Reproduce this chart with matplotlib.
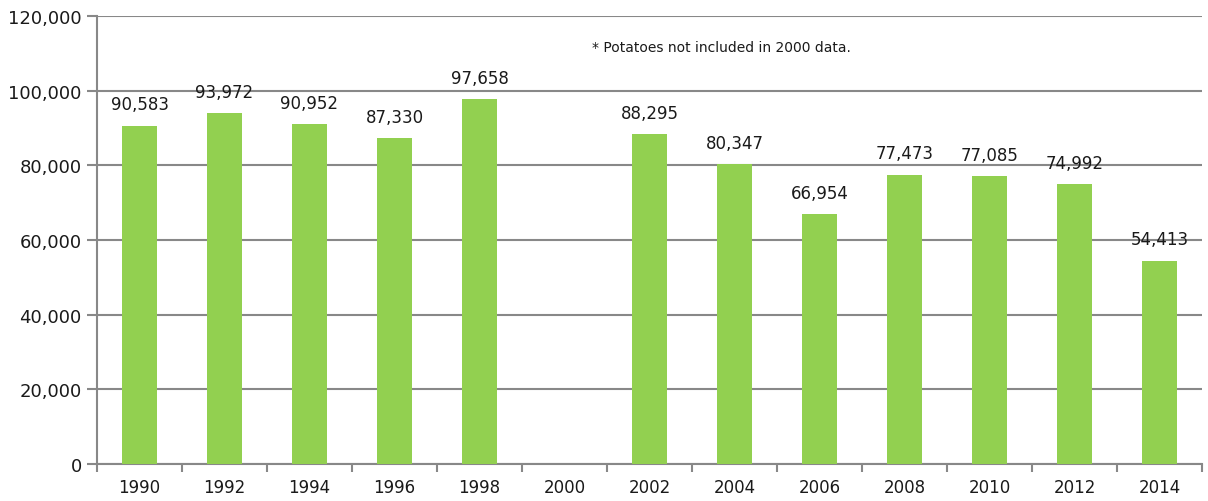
import numpy as np
import matplotlib
matplotlib.use('Agg')
import matplotlib.pyplot as plt
from matplotlib.ticker import FuncFormatter, FixedLocator

years = ['1990', '1992', '1994', '1996', '1998', '2000', '2002',
         '2004', '2006', '2008', '2010', '2012', '2014']
values = [90583, 93972, 90952, 87330, 97658, np.nan, 88295,
          80347, 66954, 77473, 77085, 74992, 54413]
note = '* Potatoes not included in 2000 data.'

plt.rcParams['font.family'] = ['DejaVu Sans']
fig = plt.figure(figsize=(12.08, 5.02), dpi=100)
ax = fig.add_axes([0.0803, 0.0737, 0.9147, 0.8923])

x = np.arange(len(years))
ax.bar(x, values, width=0.41, color='#92D050', zorder=3)

for xi, v in zip(x, values):
    if np.isnan(v):
        continue
    ax.annotate(f'{int(v):,}', (xi, v), xytext=(0, 9), textcoords='offset points',
                ha='center', va='bottom', fontsize=12, color='#1a1a1a')

ax.set_xlim(-0.5, len(years) - 0.5)
ax.set_ylim(0, 120000)
ax.set_yticks(range(0, 120001, 20000))
ax.yaxis.set_major_formatter(FuncFormatter(lambda v, p: f'{int(v):,}'))
ax.set_xticks(x)
ax.set_xticklabels(years)
ax.xaxis.set_minor_locator(FixedLocator(np.arange(-0.5, len(years), 1)))
ax.tick_params(axis='x', which='major', length=0, labelsize=12, pad=10,
               labelcolor='#1a1a1a')
ax.tick_params(axis='x', which='minor', length=6, color='#888888', width=1.5)
ax.tick_params(axis='y', length=7, color='#888888', width=1.5, labelsize=13,
               pad=4, labelcolor='#1a1a1a')

ax.grid(axis='y', color='#888888', linewidth=1.5, zorder=0)
for s in ['top', 'right']:
    ax.spines[s].set_visible(False)
for s in ['left', 'bottom']:
    ax.spines[s].set_color('#888888')
    ax.spines[s].set_linewidth(1.5)

ax.text(0.565, 0.93, note, transform=ax.transAxes, ha='center', va='center',
        fontsize=10, color='#1a1a1a')

fig.savefig('out.png', dpi=100)
